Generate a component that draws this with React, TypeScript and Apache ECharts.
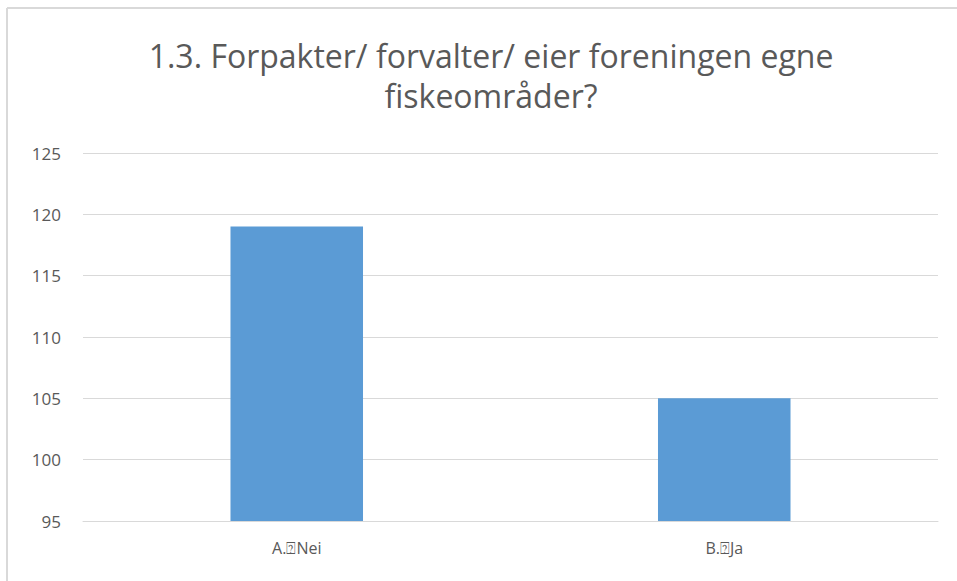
import React, { useEffect, useRef } from "react";
import * as echarts from "echarts";

const titleLines = ["1.3. Forpakter/ forvalter/ eier foreningen egne", "fiskeområder?"];
const categories = ["A.⍰Nei", "B.⍰Ja"];
const values = [119, 105];
const yMin = 95;
const yMax = 125;
const yStep = 5;

export default function App() {
  const ref = useRef<HTMLDivElement>(null);
  useEffect(() => {
    if (!ref.current) return;
    const chart = echarts.init(ref.current, null, { renderer: "svg" });
    chart.setOption({
      animation: false,
      backgroundColor: "#ffffff",
      title: {
        text: titleLines.join("\n"),
        left: 486,
        top: 30,
        textAlign: "center",
        textStyle: {
          fontFamily: "Open Sans",
          fontSize: 32,
          fontWeight: "normal",
          color: "#595959",
          lineHeight: 40,
        },
      },
      graphic: [
        {
          type: "line",
          shape: { x1: 7, y1: 8, x2: 957, y2: 8 },
          style: { stroke: "#d9d9d9", lineWidth: 2 },
          silent: true,
        },
        {
          type: "line",
          shape: { x1: 7, y1: 8, x2: 7, y2: 581 },
          style: { stroke: "#d9d9d9", lineWidth: 2 },
          silent: true,
        },
      ],
      grid: { left: 83, right: 19, top: 153, bottom: 60, containLabel: false },
      xAxis: {
        type: "category",
        data: categories,
        axisLine: { show: true, lineStyle: { color: "#d9d9d9", width: 1 } },
        axisTick: { show: false },
        axisLabel: {
          color: "#595959",
          fontFamily: "Open Sans",
          fontSize: 16,
          margin: 19,
        },
      },
      yAxis: {
        type: "value",
        min: yMin,
        max: yMax,
        interval: yStep,
        axisLine: { show: false },
        axisTick: { show: false },
        splitLine: { lineStyle: { color: "#d9d9d9", width: 1 } },
        axisLabel: {
          color: "#595959",
          fontFamily: "Open Sans",
          fontSize: 17,
          margin: 22,
        },
      },
      series: [
        {
          type: "bar",
          data: values,
          barWidth: "31%",
          itemStyle: { color: "#5b9bd5" },
        },
      ],
    });
    return () => chart.dispose();
  }, []);
  return (
    <div
      ref={ref}
      style={{ position: "fixed", left: 0, top: 0, width: 957, height: 581 }}
    />
  );
}
